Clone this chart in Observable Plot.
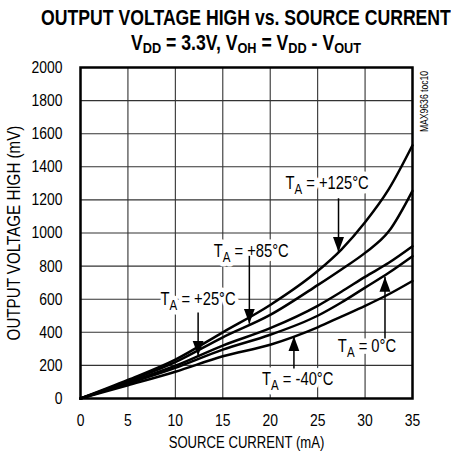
<!DOCTYPE html>
<html>
<head>
<meta charset="utf-8">
<script src="https://cdn.jsdelivr.net/npm/d3@7"></script>
<script src="https://cdn.jsdelivr.net/npm/@observablehq/plot@0.6"></script>
<style>
  html, body { margin: 0; padding: 0; background: white; }
  #title { width: 453px; height: 50px; font-family: "Liberation Sans", Arial, sans-serif; font-weight: bold; font-size: 21.5px; color: black; position: relative; }
  #title div { position: absolute; left: -54px; width: 600px; text-align: center; line-height: 24px; transform: scaleX(0.82); transform-origin: 300px 50%; white-space: nowrap; }
  #title sub { font-size: 15.5px; vertical-align: -3px; line-height: 0; }
</style>
</head>
<body>
<div id="title">
  <div style="top:6px">OUTPUT VOLTAGE HIGH vs. SOURCE CURRENT</div>
  <div style="top:31px">V<sub>DD</sub> = 3.3V, V<sub>OH</sub> = V<sub>DD</sub> - V<sub>OUT</sub></div>
</div>
<div id="chart"></div>
<script>
// Source current (mA)
const current = [0, 5, 10, 15, 20, 25, 27.5, 30, 32.5, 35];
// Output voltage high (mV) per temperature
const t125 = [0, 112, 235, 400, 565, 770, 900, 1065, 1265, 1530];
const t85  = [0, 105, 220, 370, 505, 685, 780, 880, 1010, 1255];
const t25  = [0, 97, 198, 320, 425, 560, 645, 735, 820, 920];
const t0   = [0, 90, 185, 295, 385, 500, 580, 670, 760, 860];
const tm40 = [0, 80, 162, 255, 325, 430, 495, 560, 630, 710];
const seriesNames = ["+125", "+85", "+25", "0", "-40"];

const xTicks = [0, 5, 10, 15, 20, 25, 30, 35];
const yTicks = [0, 200, 400, 600, 800, 1000, 1200, 1400, 1600, 1800, 2000];

// Annotations
const labelText = ["T_A = +125°C", "T_A = +85°C", "T_A = +25°C", "T_A = 0°C", "T_A = -40°C"];
const labelX = [26.0, 18.0, 12.4, 30.2, 22.9];
const labelY = [1300, 888, 597, 314, 115];
const arrowX = [27.2, 17.8, 12.4, 32.1, 22.5];
const arrowFrom = [1210, 862, 520, 362, 182];
const arrowTo = [885, 452, 258, 735, 376];

const allSeries = [t125, t85, t25, t0, tm40];
const rows = [];
allSeries.forEach((vals, i) => vals.forEach((v, j) => rows.push({series: seriesNames[i], x: current[j], y: v})));
const labels = labelText.map((t, i) => ({t, x: labelX[i], y: labelY[i]}));
const arrows = arrowX.map((x, i) => ({x, y1: arrowFrom[i], y2: arrowTo[i]}));

const font = '"Liberation Sans", Arial, sans-serif';

const chart = Plot.plot({
  width: 453,
  height: 412,
  marginTop: 17,
  marginLeft: 80,
  marginRight: 41,
  marginBottom: 64,
  x: {domain: [0, 35]},
  y: {domain: [0, 2000]},
  style: {fontFamily: font, fontSize: "17px", color: "black", background: "white"},
  marks: [
    Plot.gridX(xTicks, {stroke: "#333", strokeOpacity: 1, strokeWidth: 1.1}),
    Plot.gridY(yTicks, {stroke: "#333", strokeOpacity: 1, strokeWidth: 1.1}),
    Plot.axisX(xTicks, {tickSize: 0, tickPadding: 15, label: null, fontSize: 17, tickFormat: d => String(d)}),
    Plot.axisY(yTicks, {tickSize: 0, tickPadding: 18, label: null, fontSize: 17, tickFormat: d => String(d)}),
    Plot.line(rows, {x: "x", y: "y", z: "series", stroke: "black", strokeWidth: 2.5, curve: "monotone-x"}),
    Plot.text(labels, {x: "x", y: "y", text: "t", fill: "black", stroke: "white", strokeWidth: 9, fontSize: 18}),
    Plot.link(arrows, {x1: "x", x2: "x", y1: "y1", y2: "y2", stroke: "black", strokeWidth: 1.5, markerEnd: "arrow"}),
    Plot.frame({stroke: "black", strokeWidth: 2.5}),
    Plot.text(["SOURCE CURRENT (mA)"], {frameAnchor: "bottom", textAnchor: "middle", dy: 49, fontSize: 16, fill: "black"}),
    Plot.text(["OUTPUT VOLTAGE HIGH (mV)"], {frameAnchor: "left", textAnchor: "middle", dx: -66, rotate: -90, fontSize: 18.5, fill: "black"}),
    Plot.text(["MAX9636 toc10"], {frameAnchor: "top-right", textAnchor: "middle", dx: 8, dy: 34, rotate: -90, fontSize: 10.5, fill: "black"})
  ]
});
document.getElementById("chart").appendChild(chart);

const ns = "http://www.w3.org/2000/svg";
chart.querySelectorAll("text").forEach(t => {
  const s = t.textContent;
  // Subscript "A" in the temperature labels
  if (s.startsWith("T_A")) {
    while (t.firstChild) t.removeChild(t.firstChild);
    const a = document.createElementNS(ns, "tspan"); a.textContent = "T"; t.appendChild(a);
    const b = document.createElementNS(ns, "tspan"); b.textContent = "A"; b.setAttribute("dy", "5"); b.setAttribute("font-size", "14"); t.appendChild(b);
    const c = document.createElementNS(ns, "tspan"); c.textContent = s.slice(3); c.setAttribute("dy", "-5"); t.appendChild(c);
  }
  // Narrow the type (Arial Narrow look)
  const ax = parseFloat(t.getAttribute("x") || 0) || 0;
  const old = t.getAttribute("transform") || "";
  t.setAttribute("transform", `${old} translate(${ax},0) scale(0.82,1) translate(${-ax},0)`);
});
// Filled arrowheads
chart.querySelectorAll("marker").forEach(m => {
  m.setAttribute("viewBox", "-15 -6 15 12");
  m.setAttribute("markerWidth", "15");
  m.setAttribute("markerHeight", "12");
  m.setAttribute("markerUnits", "userSpaceOnUse");
  m.setAttribute("fill", "black");
  m.setAttribute("stroke", "none");
  const p = m.querySelector("path");
  if (p) { p.setAttribute("d", "M-15,-5.5L0,0L-15,5.5Z"); p.setAttribute("fill", "black"); p.setAttribute("stroke", "none"); }
});
</script>
</body>
</html>
